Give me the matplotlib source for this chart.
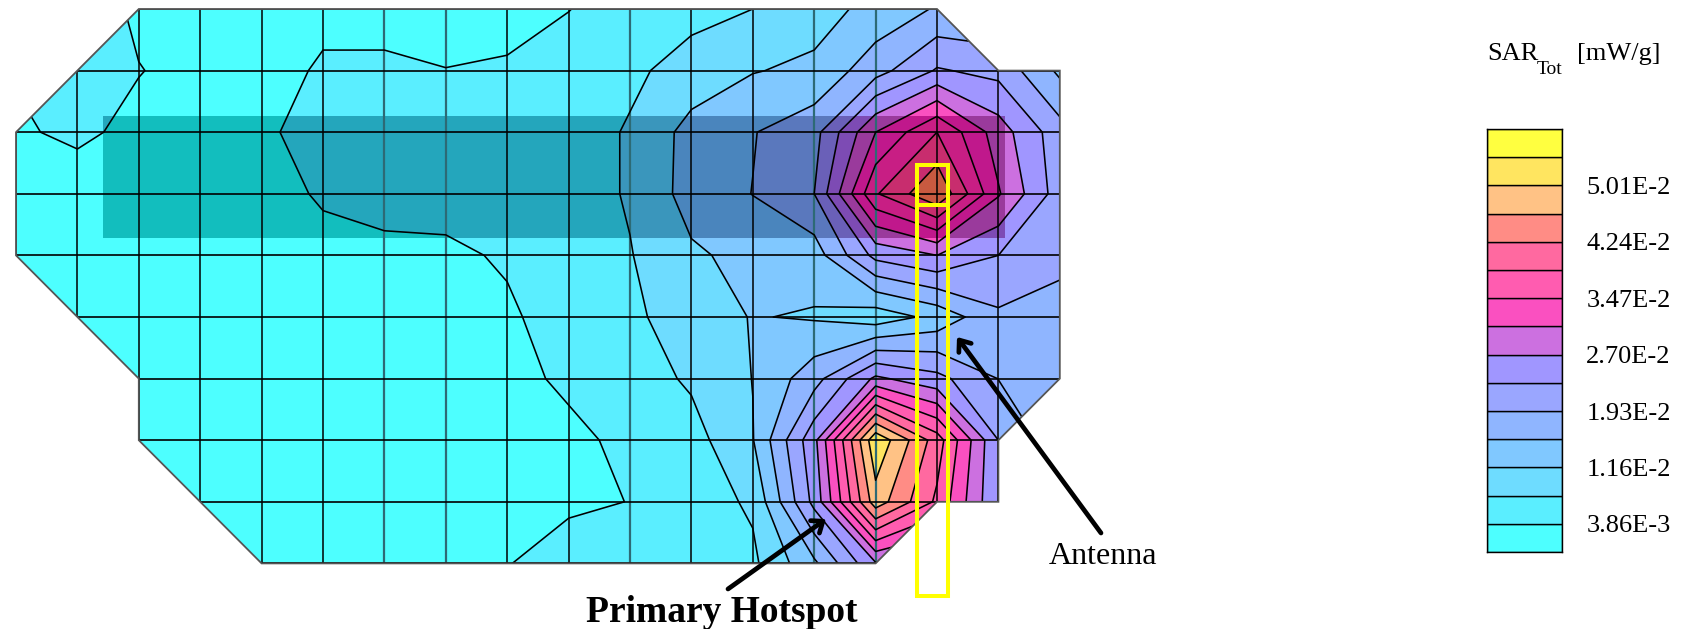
"""SAR_Tot distribution over the phone mesh, two hotspots and the antenna outline."""

import numpy as np
import matplotlib
matplotlib.use("Agg")
import matplotlib.pyplot as plt
from matplotlib.patches import Polygon, Rectangle

W, H = 1686, 629

# mesh nodes, in image pixels
grid_x = 16 + 61.4 * np.arange(18)
grid_y = 9 + 61.6 * np.arange(10)

# nodal SAR in units of the contour step (3.86E-3 mW/g); nodes off the outline are only there for the interpolation
sar_steps = np.array([
    [1.1, 2.0, 0.7, 0.3, 0.3, 0.5, 0.5, 0.6, 0.7, 0.98, 1.4, 1.7, 2.0, 2.6, 3.3, 4.1, 4.0, 3.0],
    [1.1, 1.3, 1.05, 0.55, 0.2, 1.25, 1.25, 1.02, 1.1, 1.4, 1.8, 2.4, 2.95, 3.2, 4.6, 6.1, 5.7, 3.8],
    [0.8, 1.3, 0.6, 0.3, 0.85, 1.35, 1.4, 1.4, 1.5, 1.5, 2.1, 3.35, 3.95, 4.65, 8.0, 10.0, 7.5, 5.4],
    [0.2, 0.2, 0.2, 0.2, 0.5, 1.15, 1.45, 1.5, 1.5, 1.5, 2.1, 3.4, 4.02, 5.0, 9.9, 11.9, 8.1, 5.5],
    [0.2, 0.2, 0.2, 0.2, 0.3, 0.6, 0.7, 0.75, 1.15, 1.6, 1.95, 2.85, 3.3, 3.5, 6.3, 7.0, 6.0, 5.4],
    [0.2, 0.2, 0.2, 0.2, 0.3, 0.4, 0.5, 0.6, 0.8, 1.6, 1.8, 2.5, 3.05, 2.9, 2.4, 3.3, 4.82, 4.4],
    [0.2, 0.2, 0.2, 0.2, 0.2, 0.3, 0.3, 0.4, 0.5, 1.3, 1.5, 2.15, 3.02, 4.6, 7.2, 6.3, 4.98, 4.4],
    [0.2, 0.2, 0.2, 0.2, 0.2, 0.2, 0.3, 0.3, 0.4, 0.6, 1.4, 1.6, 2.95, 6.7, 13.8, 10.5, 6.0, 4.4],
    [0.2, 0.2, 0.2, 0.2, 0.2, 0.2, 0.2, 0.3, 0.5, 0.8, 1.02, 1.5, 2.15, 6.3, 12.57, 9.8, 6.0, 5.0],
    [0.2, 0.2, 0.2, 0.2, 0.2, 0.2, 0.2, 0.4, 0.95, 1.55, 1.5, 1.6, 1.8, 3.8, 6.9, 6.5, 6.0, 5.0],
])

# mesh outline as (column, row) node indices
outline_nodes = [(2, 0), (15, 0), (16, 1), (17, 1), (17, 6), (16, 7), (16, 8), (15, 8),
                 (14, 9), (4, 9), (2, 7), (2, 6), (0, 4), (0, 2)]

band_levels = list(range(16))
band_colors = ["#4dffff", "#5aeeff", "#6edcff", "#80c8ff", "#8fb5ff", "#9aa6ff", "#a096ff", "#cc70e0",
               "#fa50c0", "#ff5cb0", "#ff69a0", "#ff8c85", "#ffc285", "#ffe560", "#ffff40"]
shaded_colors = ["#12bebe", "#24a6bc", "#3a96bc", "#4a85bd", "#5a78bd", "#6a60b8", "#7d4bb4", "#9a3a9c",
                 "#c0188c", "#c81e84", "#c82d6e", "#c85a40", "#c88040", "#c8a040", "#c8c040"]
tick_levels = [1, 3, 5, 7, 9, 11, 13]
tick_labels = ["3.86E-3", "1.16E-2", "1.93E-2", "2.70E-2", "3.47E-2", "4.24E-2", "5.01E-2"]

teal_cols = [6, 7, 10, 13, 14]   # these mesh lines came out washed in the original

SERIF = "Liberation Serif"

fig = plt.figure(figsize=(W / 100, H / 100), dpi=100)
ax = fig.add_axes([0, 0, 1, 1])
ax.set_xlim(0, W)
ax.set_ylim(H, 0)
ax.axis("off")

outline_xy = [(grid_x[c], grid_y[r]) for c, r in outline_nodes]
clip = Polygon(outline_xy, closed=True, transform=ax.transData, fill=False)

fill = ax.contourf(grid_x, grid_y, sar_steps, levels=band_levels, colors=band_colors, zorder=1)
fill.set_clip_path(clip)

# darker strip behind the top hotspot
strip = Rectangle((103, 116), 902, 122, transform=ax.transData)
shade = ax.contourf(grid_x, grid_y, sar_steps, levels=band_levels, colors=shaded_colors, zorder=2)
shade.set_clip_path(strip)

# corner of the mesh right of the lower hotspot stays one flat band
ax.add_patch(Polygon([(grid_x[16], grid_y[6]), (grid_x[17], grid_y[6]), (grid_x[16], grid_y[7])],
                     color=band_colors[4], lw=0, zorder=2.5))

for c, x in enumerate(grid_x):
    teal = c in teal_cols
    ln, = ax.plot([x, x], [grid_y[0], grid_y[-1]], color="#2d6a75" if teal else "k",
                  lw=1.6 if teal else 1.1, zorder=3)
    ln.set_clip_path(clip)
for y in grid_y:
    ln, = ax.plot([grid_x[0], grid_x[-1]], [y, y], color="k", lw=1.2, zorder=3)
    ln.set_clip_path(clip)

lines = ax.contour(grid_x, grid_y, sar_steps, levels=band_levels[1:], colors="k", linewidths=1.15, zorder=4)
lines.set_clip_path(clip)

ax.add_patch(Polygon(outline_xy, closed=True, fill=False, ec="#555555", lw=1.3, zorder=5))

# antenna outline
ax.add_patch(Rectangle((917, 165), 31, 431, fill=False, ec="#ffff00", lw=2.9, zorder=6))
ax.plot([917, 948], [205, 205], color="#ffff00", lw=2.9, zorder=6)

arrow = dict(arrowstyle="->,head_width=0.55,head_length=0.7", color="k", lw=3.4, shrinkA=0, shrinkB=0)
ax.annotate("", xy=(826, 519), xytext=(728, 589), arrowprops=arrow, zorder=7)
ax.annotate("", xy=(957, 337), xytext=(1101, 533), arrowprops=arrow, zorder=7)

ax.text(722, 612, "Primary Hotspot", family=SERIF, fontweight="bold", fontsize=27,
        ha="center", va="center", zorder=8)
ax.text(1103, 556, "Antenna", family=SERIF, fontsize=23, ha="center", va="center")

ax.text(1487, 54, "SAR", family=SERIF, fontsize=19, ha="left", va="center")
ax.text(1537, 69, "Tot", family=SERIF, fontsize=14, ha="left", va="center")
ax.text(1577, 54, "[mW/g]", family=SERIF, fontsize=19, ha="left", va="center")

# colour key
cax = fig.add_axes([1487 / W, 1 - 552 / H, 75 / W, 423 / H])
cax.barh(band_levels[:-1], 1, height=1, align="edge", color=band_colors, edgecolor="k", lw=1)
cax.set_xlim(0, 1)
cax.set_ylim(0, 15)
cax.set_xticks([])
cax.yaxis.tick_right()
cax.set_yticks(tick_levels, tick_labels, family=SERIF, fontsize=19)
cax.tick_params(axis="y", length=0, pad=17.5)
for s in cax.spines.values():
    s.set_linewidth(1)

fig.savefig("out.png", dpi=100)
